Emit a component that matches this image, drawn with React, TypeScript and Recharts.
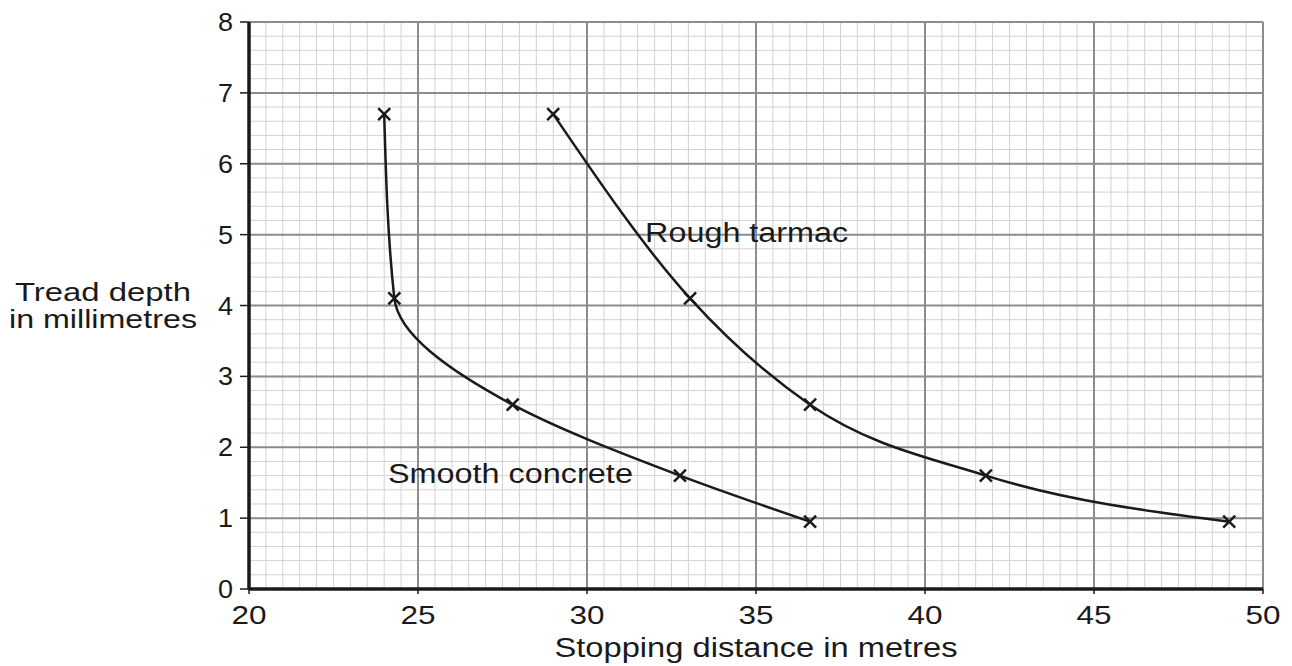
import { Line, LineChart, ReferenceDot, ReferenceLine, XAxis, YAxis } from "recharts";

const treadDepth = [6.7, 4.1, 2.6, 1.6, 0.95];
const smoothConcreteDist = [24.0, 24.3, 27.8, 32.75, 36.6];
const roughTarmacDist = [29.0, 33.05, 36.6, 41.8, 49.0];

const xTicks = [20, 25, 30, 35, 40, 45, 50];
const yTicks = [0, 1, 2, 3, 4, 5, 6, 7, 8];

// graph-paper grid: 0.5 m by 0.2 mm squares
const minorX = Array.from({ length: 61 }, (_, i) => 20 + i * 0.5);
const minorY = Array.from({ length: 41 }, (_, i) => Math.round(i * 2) / 10);

const smoothData = smoothConcreteDist.map((d, i) => ({ distance: d, depth: treadDepth[i] }));
const roughData = roughTarmacDist.map((d, i) => ({ distance: d, depth: treadDepth[i] }));

const FONT = "'Liberation Sans', Arial, sans-serif";
const INK = "#1a1a1a";

// the scan is stretched sideways, so text gets a fixed width via textLength
function StretchText({ x, y, w, size, children, anchor = "start" }: any) {
  return (
    <text
      x={x}
      y={y}
      fontFamily={FONT}
      fontSize={size}
      fill={INK}
      textAnchor={anchor}
      textLength={w}
      lengthAdjust="spacingAndGlyphs"
    >
      {children}
    </text>
  );
}

const XTick = ({ x, y, payload }: any) => {
  const s = String(payload.value);
  return (
    <StretchText x={x} y={y + 27} w={s.length * 17.5} size={25} anchor="middle">
      {s}
    </StretchText>
  );
};

const YTick = ({ x, y, payload }: any) => (
  <StretchText x={x} y={y + 9} w={15} size={25} anchor="end">
    {payload.value}
  </StretchText>
);

const Cross = ({ cx, cy, index }: any) => (
  <path
    key={index}
    d={`M${cx - 6},${cy - 6}L${cx + 6},${cy + 6}M${cx + 6},${cy - 6}L${cx - 6},${cy + 6}`}
    stroke={INK}
    strokeWidth={2.5}
    fill="none"
  />
);

export default function App() {
  return (
    <div style={{ position: "absolute", left: 0, top: 0, background: "#fff" }}>
      <LineChart width={1292} height={666} margin={{ top: 22, right: 29, bottom: 37, left: 189 }}>
        <XAxis
          dataKey="distance"
          type="number"
          domain={[20, 50]}
          ticks={xTicks}
          allowDuplicatedCategory={false}
          height={40}
          axisLine={false}
          tickSize={5}
          tickMargin={3}
          tickLine={{ stroke: INK, strokeWidth: 1.5 }}
          tick={<XTick />}
          label={{
            content: ({ viewBox }: any) => (
              <StretchText x={viewBox.x + viewBox.width / 2} y={657} w={403} size={27} anchor="middle">
                Stopping distance in metres
              </StretchText>
            ),
          }}
        />
        <YAxis
          type="number"
          domain={[0, 8]}
          ticks={yTicks}
          width={60}
          axisLine={false}
          tickSize={9}
          tickMargin={7}
          tickLine={{ stroke: INK, strokeWidth: 1.5 }}
          tick={<YTick />}
          label={{
            content: ({ viewBox }: any) => {
              const mid = viewBox.y + viewBox.height / 2;
              return (
                <g>
                  <StretchText x={103} y={mid - 5} w={176} size={25} anchor="middle">
                    Tread depth
                  </StretchText>
                  <StretchText x={103} y={mid + 22} w={188} size={25} anchor="middle">
                    in millimetres
                  </StretchText>
                </g>
              );
            },
          }}
        />

        {minorX.map((v) => (
          <ReferenceLine key={`mx${v}`} x={v} stroke="#d2d2d2" strokeWidth={1} />
        ))}
        {minorY.map((v) => (
          <ReferenceLine key={`my${v}`} y={v} stroke="#d2d2d2" strokeWidth={1} />
        ))}
        {xTicks.map((v) => (
          <ReferenceLine key={`Mx${v}`} x={v} stroke="#8c8c8c" strokeWidth={2} />
        ))}
        {yTicks.map((v) => (
          <ReferenceLine key={`My${v}`} y={v} stroke="#8c8c8c" strokeWidth={2} />
        ))}
        <ReferenceLine x={20} stroke={INK} strokeWidth={3.5} />
        <ReferenceLine y={0} stroke={INK} strokeWidth={3.5} />

        <ReferenceDot
          x={31.72}
          y={4.89}
          r={0}
          stroke="none"
          label={{
            content: ({ viewBox }: any) => (
              <StretchText x={viewBox.x} y={viewBox.y} w={203} size={27}>
                Rough tarmac
              </StretchText>
            ),
          }}
        />
        <ReferenceDot
          x={24.11}
          y={1.5}
          r={0}
          stroke="none"
          label={{
            content: ({ viewBox }: any) => (
              <StretchText x={viewBox.x} y={viewBox.y} w={245} size={27}>
                Smooth concrete
              </StretchText>
            ),
          }}
        />

        {/* smooth concrete drops near-vertically at first, so interpolate along y */}
        <Line
          data={smoothData}
          dataKey="depth"
          type="monotoneY"
          stroke={INK}
          strokeWidth={2.5}
          dot={<Cross />}
          activeDot={false}
          isAnimationActive={false}
        />
        <Line
          data={roughData}
          dataKey="depth"
          type="monotone"
          stroke={INK}
          strokeWidth={2.5}
          dot={<Cross />}
          activeDot={false}
          isAnimationActive={false}
        />
      </LineChart>
    </div>
  );
}
